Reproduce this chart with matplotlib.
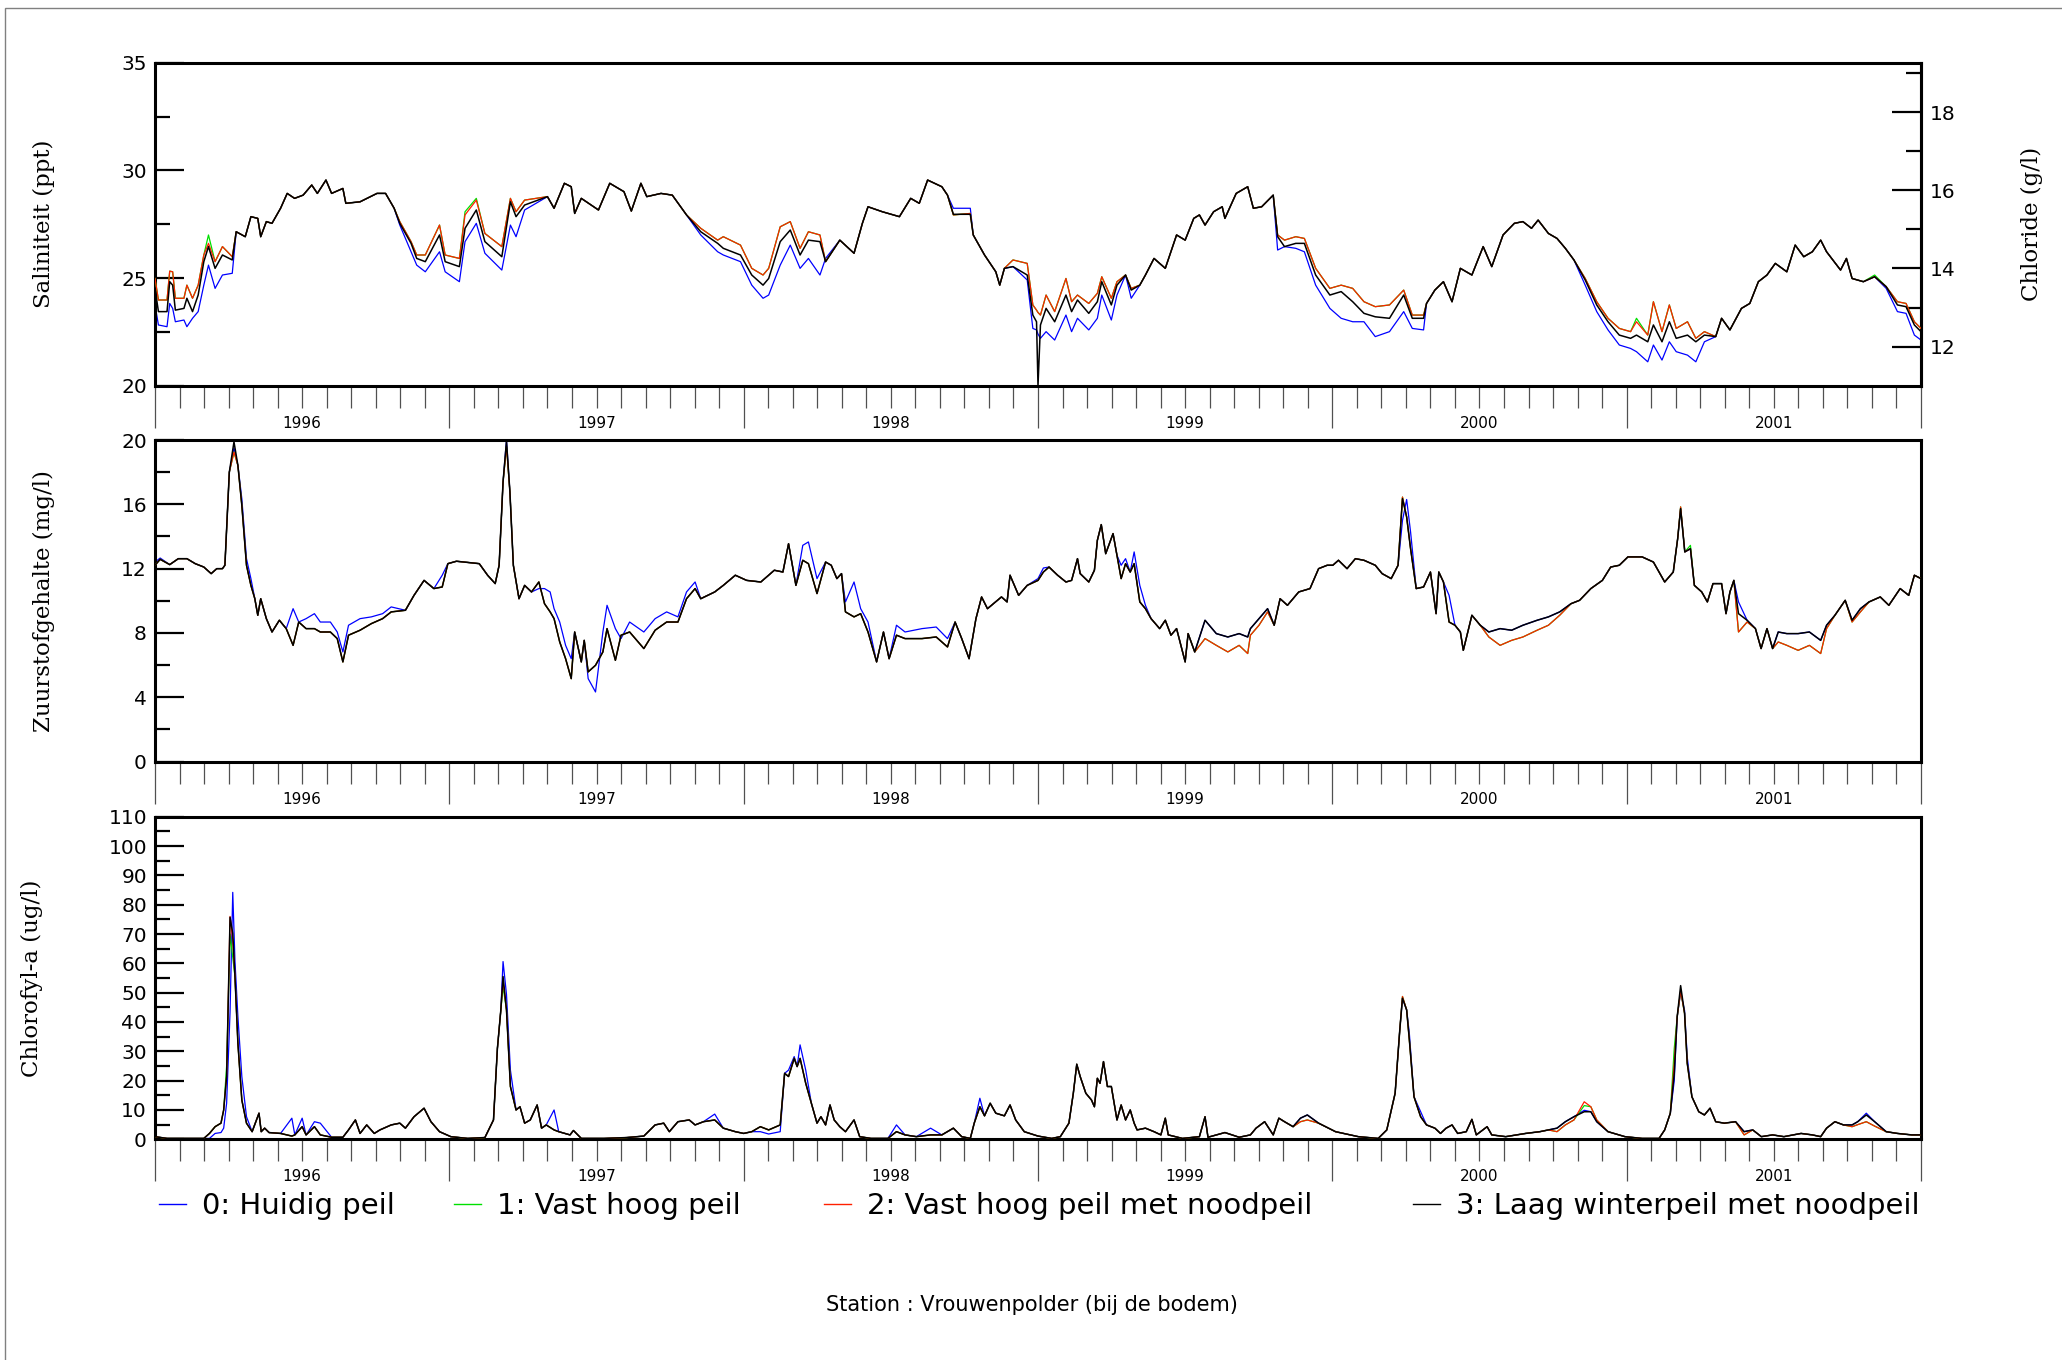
"""Salinity, oxygen and chlorophyll-a near the bottom at Vrouwenpolder,
1996-2001, for four water-level scenarios."""

import matplotlib

matplotlib.use("Agg")
import matplotlib.pyplot as plt
from matplotlib.lines import Line2D
from matplotlib.patches import Rectangle
from matplotlib.ticker import FixedLocator, MultipleLocator

# x values are months since 1 January 1996
YEARS = ["1996", "1997", "1998", "1999", "2000", "2001"]
SCENARIOS = [
    "0: Huidig peil",
    "1: Vast hoog peil",
    "2: Vast hoog peil met noodpeil",
    "3: Laag winterpeil met noodpeil",
]
COLORS = ["#0000ff", "#00e000", "#ff2000", "#000000"]

# ---- Salinity (ppt) ----
SAL_T = [
    0.00, 0.14, 0.49, 0.60, 0.72, 0.83, 1.18, 1.30, 1.53, 1.76,
    1.99, 2.18, 2.45, 2.75, 3.15, 3.31, 3.68, 3.91, 4.19, 4.31,
    4.54, 4.77, 5.12, 5.39, 5.69, 6.04, 6.39, 6.62, 6.97, 7.20,
    7.66, 7.78, 8.36, 9.05, 9.40, 9.75, 9.98, 10.44, 10.67, 11.02,
    11.60, 11.83, 12.41, 12.64, 13.10, 13.45, 14.14, 14.49, 14.72, 15.07,
    16.00, 16.27, 16.69, 16.97, 17.11, 17.38, 18.08, 18.54, 19.12, 19.42,
    19.81, 20.05, 20.63, 21.09, 21.67, 22.25, 22.94, 23.17, 23.87, 24.33,
    24.79, 25.02, 25.49, 25.90, 26.30, 26.64, 27.11, 27.34, 27.92, 28.50,
    28.84, 29.07, 29.65, 30.35, 30.81, 31.16, 31.50, 32.08, 32.31, 32.55,
    33.24, 33.36, 33.82, 34.28, 34.44, 34.63, 34.98, 35.56, 35.79, 35.94,
    36.00, 36.10, 36.33, 36.68, 37.14, 37.37, 37.61, 38.07, 38.42, 38.60,
    38.99, 39.22, 39.57, 39.80, 40.15, 40.38, 40.73, 41.19, 41.42, 41.65,
    42.00, 42.35, 42.58, 42.81, 43.16, 43.51, 43.62, 44.08, 44.55, 44.78,
    45.12, 45.59, 45.77, 46.05, 46.51, 46.86, 47.32, 47.90, 48.36, 48.83,
    49.29, 49.75, 50.33, 50.91, 51.26, 51.72, 51.84, 52.18, 52.53, 52.88,
    53.22, 53.69, 54.15, 54.50, 54.96, 55.42, 55.77, 56.12, 56.39, 56.81,
    57.16, 57.50, 57.85, 58.31, 58.78, 59.24, 59.70, 60.16, 60.40, 60.86,
    61.09, 61.44, 61.74, 62.02, 62.48, 62.82, 63.17, 63.63, 63.87, 64.21,
    64.68, 65.02, 65.37, 65.72, 66.06, 66.53, 66.87, 67.22, 67.57, 67.91,
    68.15, 68.72, 68.96, 69.19, 69.65, 70.11, 70.58, 71.04, 71.39, 71.73,
    72.00,
]
SAL_0 = [
    23.75, 22.82, 22.74, 23.82, 23.59, 22.97, 23.05, 22.74, 23.13, 23.44,
    24.67, 25.60, 24.52, 25.14, 25.22, 27.15, 26.92, 27.85, 27.77, 26.92,
    27.62, 27.54, 28.24, 28.93, 28.70, 28.85, 29.32, 28.93, 29.55, 28.93,
    29.16, 28.47, 28.54, 28.93, 28.93, 28.24, 27.46, 26.22, 25.60, 25.29,
    26.22, 25.29, 24.83, 26.69, 27.54, 26.15, 25.37, 27.46, 26.92, 28.16,
    28.78, 28.24, 29.40, 29.24, 28.00, 28.70, 28.16, 29.40, 29.01, 28.11,
    29.40, 28.78, 28.93, 28.85, 27.93, 27.00, 26.22, 26.07, 25.76, 24.67,
    24.06, 24.21, 25.60, 26.53, 25.45, 25.91, 25.14, 25.91, 26.76, 26.15,
    27.54, 28.31, 28.08, 27.85, 28.70, 28.47, 29.55, 29.24, 28.85, 28.24,
    28.24, 27.00, 26.07, 25.29, 24.67, 25.45, 25.53, 24.91, 22.66, 22.59,
    22.40, 22.20, 22.51, 22.12, 23.28, 22.51, 23.13, 22.59, 23.13, 24.21,
    23.05, 24.21, 25.14, 24.06, 24.67, 25.14, 25.91, 25.45, 26.22, 27.00,
    26.76, 27.77, 27.93, 27.46, 28.08, 28.31, 27.77, 28.93, 29.24, 28.24,
    28.31, 28.85, 26.30, 26.46, 26.38, 26.22, 24.67, 23.59, 23.13, 22.97,
    22.97, 22.28, 22.51, 23.44, 22.66, 22.59, 23.82, 24.44, 24.83, 23.90,
    25.45, 25.14, 26.46, 25.53, 27.00, 27.54, 27.62, 27.31, 27.69, 27.07,
    26.84, 26.38, 25.84, 24.67, 23.44, 22.59, 21.89, 21.73, 21.58, 21.11,
    21.89, 21.19, 22.04, 21.58, 21.42, 21.11, 22.04, 22.28, 23.13, 22.59,
    23.59, 23.82, 24.83, 25.14, 25.68, 25.29, 26.53, 25.99, 26.22, 26.76,
    26.22, 25.37, 25.91, 24.98, 24.83, 25.06, 24.52, 23.44, 23.36, 22.35,
    22.12,
]
SAL_1 = [
    24.98, 23.98, 23.98, 25.32, 25.29, 24.06, 24.06, 24.67, 24.06, 24.67,
    26.07, 27.00, 25.76, 26.46, 25.99, 27.15, 26.92, 27.85, 27.77, 26.92,
    27.62, 27.54, 28.24, 28.93, 28.70, 28.85, 29.32, 28.93, 29.55, 28.93,
    29.16, 28.47, 28.54, 28.93, 28.93, 28.24, 27.62, 26.69, 26.07, 26.07,
    27.46, 26.07, 25.91, 28.08, 28.70, 27.07, 26.46, 28.70, 28.08, 28.62,
    28.78, 28.24, 29.40, 29.24, 28.00, 28.70, 28.16, 29.40, 29.01, 28.11,
    29.40, 28.78, 28.93, 28.85, 27.93, 27.31, 26.76, 26.92, 26.53, 25.45,
    25.14, 25.45, 27.38, 27.62, 26.38, 27.15, 27.00, 25.76, 26.76, 26.15,
    27.54, 28.31, 28.08, 27.85, 28.70, 28.47, 29.55, 29.24, 28.85, 27.93,
    28.00, 27.00, 26.07, 25.29, 24.67, 25.45, 25.84, 25.68, 23.75, 23.51,
    23.40, 23.28, 24.21, 23.44, 24.98, 23.90, 24.21, 23.82, 24.29, 25.06,
    24.06, 24.83, 25.14, 24.52, 24.67, 25.14, 25.91, 25.45, 26.22, 27.00,
    26.76, 27.77, 27.93, 27.46, 28.08, 28.31, 27.77, 28.93, 29.24, 28.24,
    28.31, 28.85, 27.00, 26.76, 26.92, 26.84, 25.45, 24.52, 24.67, 24.52,
    23.90, 23.67, 23.75, 24.44, 23.28, 23.28, 23.82, 24.44, 24.83, 23.90,
    25.45, 25.14, 26.46, 25.53, 27.00, 27.54, 27.62, 27.31, 27.69, 27.07,
    26.84, 26.38, 25.84, 24.98, 23.90, 23.13, 22.66, 22.51, 23.13, 22.35,
    23.90, 22.51, 23.75, 22.66, 22.97, 22.20, 22.51, 22.28, 23.13, 22.59,
    23.59, 23.82, 24.83, 25.14, 25.68, 25.29, 26.53, 25.99, 26.22, 26.76,
    26.22, 25.37, 25.91, 24.98, 24.83, 25.14, 24.60, 23.90, 23.82, 22.97,
    22.66,
]
SAL_2 = [
    24.98, 23.98, 23.98, 25.32, 25.29, 24.06, 24.06, 24.67, 24.06, 24.67,
    26.07, 26.61, 25.76, 26.46, 25.99, 27.15, 26.92, 27.85, 27.77, 26.92,
    27.62, 27.54, 28.24, 28.93, 28.70, 28.85, 29.32, 28.93, 29.55, 28.93,
    29.16, 28.47, 28.54, 28.93, 28.93, 28.24, 27.62, 26.69, 26.07, 26.07,
    27.46, 26.07, 25.91, 27.93, 28.62, 27.07, 26.46, 28.70, 28.08, 28.62,
    28.78, 28.24, 29.40, 29.24, 28.00, 28.70, 28.16, 29.40, 29.01, 28.11,
    29.40, 28.78, 28.93, 28.85, 27.93, 27.31, 26.76, 26.92, 26.53, 25.45,
    25.14, 25.45, 27.38, 27.62, 26.38, 27.15, 27.00, 25.76, 26.76, 26.15,
    27.54, 28.31, 28.08, 27.85, 28.70, 28.47, 29.55, 29.24, 28.85, 27.93,
    28.00, 27.00, 26.07, 25.29, 24.67, 25.45, 25.84, 25.68, 23.75, 23.51,
    23.40, 23.28, 24.21, 23.44, 24.98, 23.90, 24.21, 23.82, 24.29, 25.06,
    24.06, 24.83, 25.14, 24.52, 24.67, 25.14, 25.91, 25.45, 26.22, 27.00,
    26.76, 27.77, 27.93, 27.46, 28.08, 28.31, 27.77, 28.93, 29.24, 28.24,
    28.31, 28.85, 27.00, 26.76, 26.92, 26.84, 25.45, 24.52, 24.67, 24.52,
    23.90, 23.67, 23.75, 24.44, 23.28, 23.28, 23.82, 24.44, 24.83, 23.90,
    25.45, 25.14, 26.46, 25.53, 27.00, 27.54, 27.62, 27.31, 27.69, 27.07,
    26.84, 26.38, 25.84, 24.98, 23.90, 23.13, 22.66, 22.51, 22.97, 22.35,
    23.90, 22.51, 23.75, 22.66, 22.97, 22.20, 22.51, 22.28, 23.13, 22.59,
    23.59, 23.82, 24.83, 25.14, 25.68, 25.29, 26.53, 25.99, 26.22, 26.76,
    26.22, 25.37, 25.91, 24.98, 24.83, 25.06, 24.60, 23.90, 23.82, 22.97,
    22.66,
]
SAL_3 = [
    24.52, 23.44, 23.44, 24.83, 24.67, 23.51, 23.59, 24.06, 23.44, 24.21,
    25.76, 26.46, 25.45, 26.07, 25.84, 27.15, 26.92, 27.85, 27.77, 26.92,
    27.62, 27.54, 28.24, 28.93, 28.70, 28.85, 29.32, 28.93, 29.55, 28.93,
    29.16, 28.47, 28.54, 28.93, 28.93, 28.24, 27.54, 26.61, 25.91, 25.76,
    27.00, 25.76, 25.53, 27.31, 28.16, 26.69, 25.99, 28.54, 27.85, 28.39,
    28.78, 28.24, 29.40, 29.24, 28.00, 28.70, 28.16, 29.40, 29.01, 28.11,
    29.40, 28.78, 28.93, 28.85, 27.93, 27.15, 26.61, 26.38, 26.07, 25.14,
    24.67, 24.98, 26.69, 27.23, 26.07, 26.76, 26.69, 25.76, 26.76, 26.15,
    27.54, 28.31, 28.08, 27.85, 28.70, 28.47, 29.55, 29.24, 28.85, 27.96,
    27.96, 27.00, 26.07, 25.29, 24.67, 25.45, 25.53, 25.14, 23.28, 22.97,
    20.00, 22.82, 23.59, 22.97, 24.21, 23.44, 23.98, 23.36, 23.90, 24.83,
    23.75, 24.67, 25.14, 24.44, 24.67, 25.14, 25.91, 25.45, 26.22, 27.00,
    26.76, 27.77, 27.93, 27.46, 28.08, 28.31, 27.77, 28.93, 29.24, 28.24,
    28.31, 28.85, 26.92, 26.46, 26.61, 26.61, 25.14, 24.21, 24.37, 23.90,
    23.36, 23.20, 23.13, 24.21, 23.13, 23.13, 23.82, 24.44, 24.83, 23.90,
    25.45, 25.14, 26.46, 25.53, 27.00, 27.54, 27.62, 27.31, 27.69, 27.07,
    26.84, 26.38, 25.84, 24.91, 23.75, 22.97, 22.35, 22.20, 22.35, 22.04,
    22.82, 22.04, 22.97, 22.20, 22.35, 22.04, 22.35, 22.28, 23.13, 22.59,
    23.59, 23.82, 24.83, 25.14, 25.68, 25.29, 26.53, 25.99, 26.22, 26.76,
    26.22, 25.37, 25.91, 24.98, 24.83, 25.06, 24.60, 23.75, 23.67, 22.82,
    22.51,
]

# ---- Dissolved oxygen (mg/l) ----
OXY_T = [
    0.00, 0.21, 0.60, 0.95, 1.30, 1.64, 1.99, 2.29, 2.52, 2.75,
    2.85, 3.03, 3.22, 3.38, 3.54, 3.73, 3.91, 4.07, 4.19, 4.31,
    4.54, 4.77, 5.07, 5.35, 5.63, 5.86, 6.16, 6.50, 6.74, 7.15,
    7.43, 7.66, 7.89, 8.36, 8.82, 9.28, 9.63, 10.21, 10.56, 10.97,
    11.37, 11.71, 11.94, 12.29, 13.22, 13.56, 13.87, 14.03, 14.19, 14.33,
    14.47, 14.61, 14.84, 15.07, 15.35, 15.65, 15.88, 16.11, 16.27, 16.50,
    16.74, 16.97, 17.11, 17.38, 17.50, 17.66, 17.96, 18.26, 18.43, 18.77,
    19.00, 19.35, 19.93, 20.39, 20.86, 21.32, 21.67, 22.02, 22.25, 22.82,
    23.17, 23.66, 24.12, 24.70, 25.25, 25.60, 25.83, 26.13, 26.41, 26.64,
    26.99, 27.34, 27.57, 27.80, 27.99, 28.15, 28.50, 28.77, 29.07, 29.42,
    29.70, 29.93, 30.23, 30.58, 31.27, 31.85, 32.31, 32.62, 32.89, 33.19,
    33.47, 33.70, 33.94, 34.51, 34.74, 34.86, 35.21, 35.56, 36.00, 36.22,
    36.45, 36.80, 37.14, 37.37, 37.61, 37.72, 38.07, 38.30, 38.42, 38.58,
    38.76, 39.06, 39.22, 39.39, 39.57, 39.76, 39.92, 40.15, 40.38, 40.61,
    40.96, 41.19, 41.42, 41.65, 42.00, 42.12, 42.39, 42.81, 43.27, 43.74,
    44.20, 44.55, 44.66, 45.01, 45.36, 45.63, 45.87, 46.17, 46.63, 47.09,
    47.44, 47.79, 48.02, 48.25, 48.60, 48.94, 49.29, 49.75, 50.03, 50.40,
    50.68, 50.86, 51.03, 51.19, 51.42, 51.72, 52.00, 52.11, 52.23, 52.34,
    52.53, 52.76, 53.00, 53.22, 53.34, 53.69, 54.03, 54.38, 54.84, 55.31,
    55.77, 56.35, 56.81, 57.27, 57.73, 58.08, 58.54, 59.01, 59.35, 59.70,
    60.05, 60.63, 61.09, 61.55, 61.90, 62.08, 62.20, 62.37, 62.60, 62.76,
    63.06, 63.29, 63.52, 63.87, 64.05, 64.21, 64.37, 64.56, 64.91, 65.25,
    65.48, 65.72, 65.95, 66.18, 66.53, 66.99, 67.45, 67.91, 68.15, 68.49,
    68.91, 69.19, 69.53, 69.88, 70.34, 70.69, 71.15, 71.50, 71.73, 72.00,
]
OXY_0 = [
    12.41, 12.66, 12.25, 12.62, 12.62, 12.31, 12.10, 11.69, 12.00, 12.00,
    12.21, 18.00, 19.50, 18.42, 16.35, 12.62, 11.38, 10.13, 9.10, 10.13,
    8.89, 8.06, 8.79, 8.27, 9.51, 8.68, 8.89, 9.20, 8.68, 8.68,
    8.06, 6.82, 8.48, 8.89, 9.00, 9.20, 9.62, 9.41, 10.34, 11.27,
    10.76, 11.59, 12.31, 12.46, 12.31, 11.59, 11.07, 12.21, 17.39, 20.00,
    16.77, 12.21, 10.13, 10.96, 10.55, 10.76, 10.76, 10.55, 9.51, 8.68,
    7.23, 6.40, 8.06, 6.20, 7.54, 5.16, 4.33, 8.06, 9.72, 8.27,
    7.65, 8.68, 8.06, 8.89, 9.31, 9.00, 10.55, 11.17, 10.13, 10.55,
    10.96, 11.59, 11.27, 11.17, 11.90, 11.79, 13.55, 10.96, 13.45, 13.66,
    11.38, 12.41, 12.21, 11.38, 11.69, 9.93, 11.17, 9.51, 8.68, 6.20,
    8.06, 6.40, 8.48, 8.06, 8.27, 8.37, 7.65, 8.68, 7.65, 6.40,
    8.89, 10.24, 9.51, 10.24, 9.93, 11.59, 10.34, 10.96, 11.38, 12.04,
    12.10, 11.59, 11.17, 11.27, 12.62, 11.69, 11.17, 11.90, 13.76, 14.74,
    12.93, 14.18, 12.83, 12.21, 12.62, 11.79, 13.04, 10.96, 9.72, 8.89,
    8.27, 8.79, 7.86, 8.27, 6.20, 7.96, 6.82, 8.79, 7.96, 7.75,
    7.96, 7.75, 8.27, 8.89, 9.51, 8.48, 10.13, 9.72, 10.55, 10.76,
    12.00, 12.21, 12.21, 12.52, 12.00, 12.62, 12.52, 12.21, 11.69, 11.38,
    12.21, 15.00, 16.30, 14.28, 10.76, 10.86, 11.79, 10.55, 9.20, 11.79,
    11.17, 10.34, 8.48, 8.06, 6.92, 9.10, 8.48, 8.06, 8.27, 8.17,
    8.48, 8.79, 9.00, 9.31, 9.82, 10.03, 10.76, 11.27, 12.10, 12.21,
    12.73, 12.73, 12.41, 11.17, 11.79, 13.87, 15.73, 13.04, 13.24, 10.96,
    10.55, 9.93, 11.07, 11.07, 9.20, 10.55, 11.27, 9.93, 8.79, 8.27,
    7.03, 8.27, 7.03, 8.06, 7.96, 7.96, 8.06, 7.54, 8.48, 9.10,
    10.03, 8.79, 9.51, 9.93, 10.24, 9.72, 10.76, 10.34, 11.59, 11.38,
]
OXY_1 = [
    12.21, 12.58, 12.25, 12.62, 12.62, 12.31, 12.10, 11.69, 12.00, 12.00,
    12.21, 18.00, 19.25, 18.42, 15.94, 12.21, 10.96, 10.13, 9.10, 10.13,
    8.89, 8.06, 8.79, 8.27, 7.23, 8.68, 8.27, 8.27, 8.06, 8.06,
    7.65, 6.20, 7.86, 8.17, 8.58, 8.89, 9.31, 9.41, 10.34, 11.27,
    10.76, 10.86, 12.31, 12.46, 12.31, 11.59, 11.07, 12.21, 17.39, 19.60,
    16.77, 12.21, 10.13, 10.96, 10.55, 11.17, 9.82, 9.31, 8.89, 7.44,
    6.40, 5.16, 8.06, 6.20, 7.54, 5.58, 5.99, 6.82, 8.27, 6.30,
    7.86, 8.06, 7.03, 8.17, 8.68, 8.68, 10.13, 10.76, 10.13, 10.55,
    10.96, 11.59, 11.27, 11.17, 11.90, 11.79, 13.55, 10.96, 12.52, 12.31,
    10.45, 12.41, 12.21, 11.38, 11.69, 9.31, 9.00, 9.20, 8.06, 6.20,
    8.06, 6.40, 7.86, 7.65, 7.65, 7.75, 7.13, 8.68, 7.65, 6.40,
    8.89, 10.24, 9.51, 10.24, 9.93, 11.59, 10.34, 10.96, 11.27, 11.79,
    12.10, 11.59, 11.17, 11.27, 12.62, 11.69, 11.17, 11.90, 13.76, 14.74,
    12.93, 14.18, 12.83, 11.38, 12.31, 11.79, 12.31, 9.93, 9.51, 8.89,
    8.27, 8.79, 7.86, 8.27, 6.20, 7.96, 6.82, 7.65, 7.23, 6.82,
    7.23, 6.72, 7.86, 8.48, 9.31, 8.48, 10.13, 9.72, 10.55, 10.76,
    12.00, 12.21, 12.21, 12.52, 12.00, 12.62, 12.52, 12.21, 11.69, 11.38,
    12.21, 16.45, 15.21, 13.24, 10.76, 10.86, 11.79, 10.55, 9.20, 11.79,
    11.17, 8.68, 8.48, 8.06, 6.92, 9.10, 8.48, 7.75, 7.23, 7.54,
    7.75, 8.17, 8.48, 9.10, 9.82, 10.03, 10.76, 11.27, 12.10, 12.21,
    12.73, 12.73, 12.41, 11.17, 11.79, 13.87, 15.84, 13.04, 13.45, 10.96,
    10.55, 9.93, 11.07, 11.07, 9.20, 10.55, 11.27, 8.06, 8.68, 8.27,
    7.03, 8.27, 7.03, 7.44, 7.23, 6.92, 7.23, 6.72, 8.27, 9.10,
    10.03, 8.68, 9.31, 9.93, 10.24, 9.72, 10.76, 10.34, 11.59, 11.38,
]
OXY_2 = [
    12.21, 12.58, 12.25, 12.62, 12.62, 12.31, 12.10, 11.69, 12.00, 12.00,
    12.21, 18.00, 19.25, 18.42, 15.94, 12.21, 10.96, 10.13, 9.10, 10.13,
    8.89, 8.06, 8.79, 8.27, 7.23, 8.68, 8.27, 8.27, 8.06, 8.06,
    7.65, 6.20, 7.86, 8.17, 8.58, 8.89, 9.31, 9.41, 10.34, 11.27,
    10.76, 10.86, 12.31, 12.46, 12.31, 11.59, 11.07, 12.21, 17.39, 19.60,
    16.77, 12.21, 10.13, 10.96, 10.55, 11.17, 9.82, 9.31, 8.89, 7.44,
    6.40, 5.16, 8.06, 6.20, 7.54, 5.58, 5.99, 6.82, 8.27, 6.30,
    7.86, 8.06, 7.03, 8.17, 8.68, 8.68, 10.13, 10.76, 10.13, 10.55,
    10.96, 11.59, 11.27, 11.17, 11.90, 11.79, 13.55, 10.96, 12.52, 12.31,
    10.45, 12.41, 12.21, 11.38, 11.69, 9.31, 9.00, 9.20, 8.06, 6.20,
    8.06, 6.40, 7.86, 7.65, 7.65, 7.75, 7.13, 8.68, 7.65, 6.40,
    8.89, 10.24, 9.51, 10.24, 9.93, 11.59, 10.34, 10.96, 11.27, 11.79,
    12.10, 11.59, 11.17, 11.27, 12.62, 11.69, 11.17, 11.90, 13.76, 14.74,
    12.93, 14.18, 12.83, 11.38, 12.31, 11.79, 12.31, 9.93, 9.51, 8.89,
    8.27, 8.79, 7.86, 8.27, 6.20, 7.96, 6.82, 7.65, 7.23, 6.82,
    7.23, 6.72, 7.86, 8.48, 9.31, 8.48, 10.13, 9.72, 10.55, 10.76,
    12.00, 12.21, 12.21, 12.52, 12.00, 12.62, 12.52, 12.21, 11.69, 11.38,
    12.21, 16.45, 15.21, 13.24, 10.76, 10.86, 11.79, 10.55, 9.20, 11.79,
    11.17, 8.68, 8.48, 8.06, 6.92, 9.10, 8.48, 7.75, 7.23, 7.54,
    7.75, 8.17, 8.48, 9.10, 9.82, 10.03, 10.76, 11.27, 12.10, 12.21,
    12.73, 12.73, 12.41, 11.17, 11.79, 13.87, 15.84, 13.04, 13.24, 10.96,
    10.55, 9.93, 11.07, 11.07, 9.20, 10.55, 11.27, 8.06, 8.68, 8.27,
    7.03, 8.27, 7.03, 7.44, 7.23, 6.92, 7.23, 6.72, 8.27, 9.10,
    10.03, 8.68, 9.31, 9.93, 10.24, 9.72, 10.76, 10.34, 11.59, 11.38,
]
OXY_3 = [
    12.21, 12.58, 12.25, 12.62, 12.62, 12.31, 12.10, 11.69, 12.00, 12.00,
    12.21, 18.00, 19.88, 18.42, 15.94, 12.21, 10.96, 10.13, 9.10, 10.13,
    8.89, 8.06, 8.79, 8.27, 7.23, 8.68, 8.27, 8.27, 8.06, 8.06,
    7.65, 6.20, 7.86, 8.17, 8.58, 8.89, 9.31, 9.41, 10.34, 11.27,
    10.76, 10.86, 12.31, 12.46, 12.31, 11.59, 11.07, 12.21, 17.39, 19.92,
    16.77, 12.21, 10.13, 10.96, 10.55, 11.17, 9.82, 9.31, 8.89, 7.44,
    6.40, 5.16, 8.06, 6.20, 7.54, 5.58, 5.99, 6.82, 8.27, 6.30,
    7.86, 8.06, 7.03, 8.17, 8.68, 8.68, 10.13, 10.76, 10.13, 10.55,
    10.96, 11.59, 11.27, 11.17, 11.90, 11.79, 13.55, 10.96, 12.52, 12.31,
    10.45, 12.41, 12.21, 11.38, 11.69, 9.31, 9.00, 9.20, 8.06, 6.20,
    8.06, 6.40, 7.86, 7.65, 7.65, 7.75, 7.13, 8.68, 7.65, 6.40,
    8.89, 10.24, 9.51, 10.24, 9.93, 11.59, 10.34, 10.96, 11.27, 11.79,
    12.10, 11.59, 11.17, 11.27, 12.62, 11.69, 11.17, 11.90, 13.76, 14.74,
    12.93, 14.18, 12.83, 11.38, 12.31, 11.79, 12.31, 9.93, 9.51, 8.89,
    8.27, 8.79, 7.86, 8.27, 6.20, 7.96, 6.82, 8.79, 7.96, 7.75,
    7.96, 7.75, 8.27, 8.89, 9.51, 8.48, 10.13, 9.72, 10.55, 10.76,
    12.00, 12.21, 12.21, 12.52, 12.00, 12.62, 12.52, 12.21, 11.69, 11.38,
    12.21, 16.35, 15.21, 13.24, 10.76, 10.86, 11.79, 10.55, 9.20, 11.79,
    11.17, 8.68, 8.48, 8.06, 6.92, 9.10, 8.48, 8.06, 8.27, 8.17,
    8.48, 8.79, 9.00, 9.31, 9.82, 10.03, 10.76, 11.27, 12.10, 12.21,
    12.73, 12.73, 12.41, 11.17, 11.79, 13.87, 15.73, 13.04, 13.24, 10.96,
    10.55, 9.93, 11.07, 11.07, 9.20, 10.55, 11.27, 9.20, 8.79, 8.27,
    7.03, 8.27, 7.03, 8.06, 7.96, 7.96, 8.06, 7.54, 8.48, 9.10,
    10.03, 8.79, 9.51, 9.93, 10.24, 9.72, 10.76, 10.34, 11.59, 11.38,
]

# ---- Chlorophyll-a (ug/l) ----
CHL_T = [
    0.00, 0.49, 1.99, 2.22, 2.45, 2.69, 2.80, 2.92, 3.06, 3.17,
    3.26, 3.38, 3.54, 3.73, 3.96, 4.24, 4.33, 4.47, 4.65, 5.12,
    5.58, 5.70, 6.00, 6.16, 6.50, 6.74, 7.20, 7.66, 7.89, 8.17,
    8.36, 8.63, 8.94, 9.17, 9.63, 9.98, 10.21, 10.56, 10.97, 11.25,
    11.60, 12.06, 12.75, 13.45, 13.80, 13.96, 14.10, 14.19, 14.33, 14.49,
    14.72, 14.88, 15.07, 15.30, 15.58, 15.76, 15.95, 16.27, 16.46, 16.92,
    17.06, 17.38, 18.31, 19.24, 19.93, 20.39, 20.74, 20.97, 21.32, 21.78,
    22.02, 22.36, 22.82, 23.17, 23.66, 24.00, 24.33, 24.68, 25.02, 25.49,
    25.67, 25.83, 26.06, 26.18, 26.30, 26.53, 26.76, 26.99, 27.15, 27.34,
    27.52, 27.69, 27.92, 28.15, 28.50, 28.73, 29.19, 29.88, 30.23, 30.58,
    31.04, 31.62, 32.08, 32.55, 32.89, 33.24, 33.40, 33.63, 33.82, 34.05,
    34.28, 34.63, 34.86, 35.09, 35.44, 36.00, 36.56, 36.91, 37.26, 37.44,
    37.58, 37.72, 37.95, 38.18, 38.30, 38.42, 38.53, 38.67, 38.83, 38.99,
    39.22, 39.39, 39.57, 39.76, 39.92, 40.04, 40.38, 40.73, 41.01, 41.19,
    41.31, 41.89, 42.58, 42.81, 42.93, 43.62, 44.20, 44.66, 44.89, 45.24,
    45.59, 45.82, 46.05, 46.40, 46.70, 46.98, 47.44, 48.13, 49.06, 49.87,
    50.22, 50.56, 50.75, 50.86, 51.03, 51.14, 51.33, 51.60, 51.84, 52.18,
    52.41, 52.64, 52.88, 53.11, 53.46, 53.69, 53.87, 54.31, 54.50, 55.07,
    55.88, 56.46, 56.81, 57.16, 57.50, 57.85, 58.27, 58.54, 58.78, 59.24,
    59.93, 60.63, 61.32, 61.55, 61.78, 61.94, 62.06, 62.20, 62.36, 62.47,
    62.66, 62.94, 63.17, 63.40, 63.63, 63.98, 64.44, 64.79, 65.14, 65.49,
    65.95, 66.41, 67.11, 67.57, 67.91, 68.15, 68.49, 68.84, 69.19, 69.42,
    69.77, 70.11, 70.58, 71.04, 71.62, 72.00,
]
CHL_0 = [
    0.9, 0.3, 0.3, 0.3, 2.0, 2.3, 3.8, 12.3, 43.4, 84.2,
    60.8, 41.8, 21.4, 7.7, 2.6, 8.9, 2.6, 3.8, 2.3, 2.0,
    7.2, 1.5, 7.2, 1.5, 6.0, 5.5, 0.7, 0.7, 3.2, 6.6,
    2.0, 4.9, 2.0, 3.2, 4.9, 5.5, 3.8, 7.7, 10.6, 6.0,
    2.6, 0.9, 0.3, 0.6, 6.6, 31.0, 44.1, 60.6, 49.4, 23.6,
    10.0, 11.1, 5.5, 6.6, 11.7, 3.8, 4.9, 10.0, 2.6, 1.5,
    3.0, 0.3, 0.3, 0.6, 1.1, 4.9, 5.5, 2.6, 6.0, 6.6,
    4.9, 6.0, 8.6, 3.8, 2.6, 2.0, 2.6, 2.6, 1.8, 2.6,
    22.5, 23.6, 28.2, 24.8, 32.2, 23.6, 12.3, 5.5, 7.7, 4.9,
    11.7, 6.6, 4.3, 2.6, 6.6, 0.9, 0.3, 0.3, 4.9, 1.5,
    0.9, 3.8, 1.5, 3.8, 0.9, 0.3, 5.5, 14.0, 8.0, 12.3,
    8.9, 8.0, 11.7, 6.6, 2.6, 1.1, 0.3, 0.9, 5.5, 15.7,
    25.6, 21.4, 15.7, 13.4, 11.1, 20.8, 19.1, 26.5, 18.0, 18.0,
    6.6, 11.7, 6.6, 10.0, 5.5, 3.2, 3.8, 2.6, 1.5, 7.2,
    1.5, 0.3, 0.9, 7.7, 0.7, 2.3, 0.7, 1.5, 3.8, 6.0,
    1.5, 7.2, 6.0, 4.3, 7.2, 8.3, 5.5, 2.6, 0.9, 0.3,
    3.2, 15.7, 37.3, 48.1, 44.1, 36.1, 14.5, 9.4, 4.9, 3.8,
    2.0, 3.8, 4.9, 2.0, 2.6, 6.8, 1.5, 4.3, 1.5, 0.9,
    2.0, 2.6, 3.2, 3.8, 6.0, 7.7, 9.9, 9.4, 6.0, 2.6,
    0.9, 0.3, 0.3, 3.2, 8.9, 20.0, 41.8, 50.0, 44.0, 28.0,
    14.5, 9.4, 8.3, 10.6, 6.0, 5.5, 6.0, 2.6, 3.2, 0.9,
    1.5, 0.9, 2.0, 1.5, 0.9, 3.8, 6.0, 4.9, 4.9, 6.0,
    8.9, 6.0, 2.6, 2.0, 1.5, 1.5,
]
CHL_1 = [
    0.9, 0.3, 0.3, 2.0, 4.3, 5.5, 10.0, 25.0, 70.0, 62.0,
    55.5, 32.7, 13.4, 5.5, 2.6, 8.9, 2.6, 3.8, 2.3, 2.0,
    1.1, 1.5, 4.3, 1.5, 4.3, 1.5, 0.7, 0.7, 3.2, 6.6,
    2.0, 4.9, 2.0, 3.2, 4.9, 5.5, 3.8, 7.7, 10.6, 6.0,
    2.6, 0.9, 0.3, 0.6, 6.6, 31.0, 44.1, 52.0, 44.1, 18.0,
    10.0, 11.1, 5.5, 6.6, 11.7, 3.8, 4.9, 3.2, 2.6, 1.5,
    3.0, 0.3, 0.3, 0.6, 1.1, 4.9, 5.5, 2.6, 6.0, 6.6,
    4.9, 6.0, 6.6, 3.8, 2.6, 2.0, 2.6, 4.3, 3.2, 4.9,
    22.5, 21.4, 27.6, 24.8, 27.6, 19.1, 12.3, 5.5, 7.7, 4.9,
    11.7, 6.6, 4.3, 2.6, 6.6, 0.9, 0.3, 0.3, 2.6, 1.5,
    0.9, 1.5, 1.5, 3.8, 0.9, 0.3, 5.5, 11.1, 8.0, 12.3,
    8.9, 8.0, 11.7, 6.6, 2.6, 1.1, 0.3, 0.9, 5.5, 15.7,
    25.6, 21.4, 15.7, 13.4, 11.1, 20.8, 19.1, 26.5, 18.0, 18.0,
    6.6, 11.7, 6.6, 10.0, 5.5, 3.2, 3.8, 2.6, 1.5, 7.2,
    1.5, 0.3, 0.9, 7.7, 0.7, 2.3, 0.7, 1.5, 3.8, 6.0,
    1.5, 7.2, 6.0, 4.3, 6.0, 6.6, 5.5, 2.6, 0.9, 0.3,
    3.2, 15.7, 37.3, 48.7, 44.1, 33.9, 14.5, 7.7, 4.9, 3.8,
    2.0, 3.8, 4.9, 2.0, 2.6, 6.8, 1.5, 4.3, 1.5, 0.9,
    2.0, 2.6, 3.2, 2.6, 4.9, 6.6, 11.5, 11.1, 6.6, 2.6,
    0.9, 0.3, 0.3, 3.2, 8.9, 31.0, 41.8, 50.5, 43.0, 25.9,
    14.5, 9.4, 8.3, 10.6, 6.0, 5.5, 6.0, 1.5, 3.2, 0.9,
    1.5, 0.9, 2.0, 1.5, 0.9, 3.8, 6.0, 4.9, 4.3, 5.0,
    6.0, 4.5, 2.6, 2.0, 1.5, 1.5,
]
CHL_2 = [
    0.9, 0.3, 0.3, 2.0, 4.3, 5.5, 10.0, 21.4, 76.0, 68.0,
    55.5, 32.7, 13.4, 5.5, 2.6, 8.9, 2.6, 3.8, 2.3, 2.0,
    1.1, 1.5, 4.3, 1.5, 4.3, 1.5, 0.7, 0.7, 3.2, 6.6,
    2.0, 4.9, 2.0, 3.2, 4.9, 5.5, 3.8, 7.7, 10.6, 6.0,
    2.6, 0.9, 0.3, 0.6, 6.6, 31.0, 44.1, 54.0, 44.1, 18.0,
    10.0, 11.1, 5.5, 6.6, 11.7, 3.8, 4.9, 3.2, 2.6, 1.5,
    3.0, 0.3, 0.3, 0.6, 1.1, 4.9, 5.5, 2.6, 6.0, 6.6,
    4.9, 6.0, 6.6, 3.8, 2.6, 2.0, 2.6, 4.3, 3.2, 4.9,
    22.5, 21.4, 27.6, 24.8, 27.6, 19.1, 12.3, 5.5, 7.7, 4.9,
    11.7, 6.6, 4.3, 2.6, 6.6, 0.9, 0.3, 0.3, 2.6, 1.5,
    0.9, 1.5, 1.5, 3.8, 0.9, 0.3, 5.5, 11.1, 8.0, 12.3,
    8.9, 8.0, 11.7, 6.6, 2.6, 1.1, 0.3, 0.9, 5.5, 15.7,
    25.6, 21.4, 15.7, 13.4, 11.1, 20.8, 19.1, 26.5, 18.0, 18.0,
    6.6, 11.7, 6.6, 10.0, 5.5, 3.2, 3.8, 2.6, 1.5, 7.2,
    1.5, 0.3, 0.9, 7.7, 0.7, 2.3, 0.7, 1.5, 3.8, 6.0,
    1.5, 7.2, 6.0, 4.3, 6.0, 6.6, 5.5, 2.6, 0.9, 0.3,
    3.2, 15.7, 37.3, 48.7, 44.1, 33.9, 14.5, 7.7, 4.9, 3.8,
    2.0, 3.8, 4.9, 2.0, 2.6, 6.8, 1.5, 4.3, 1.5, 0.9,
    2.0, 2.6, 3.2, 2.6, 4.9, 6.6, 12.8, 11.1, 6.6, 2.6,
    0.9, 0.3, 0.3, 3.2, 8.9, 26.0, 41.8, 50.5, 43.0, 25.9,
    14.5, 9.4, 8.3, 10.6, 6.0, 5.5, 6.0, 1.5, 3.2, 0.9,
    1.5, 0.9, 2.0, 1.5, 0.9, 3.8, 6.0, 4.9, 4.3, 5.0,
    6.0, 4.5, 2.6, 2.0, 1.5, 1.5,
]
CHL_3 = [
    0.9, 0.3, 0.3, 2.0, 4.3, 5.5, 10.0, 21.4, 75.7, 70.2,
    55.5, 32.7, 13.4, 5.5, 2.6, 8.9, 2.6, 3.8, 2.3, 2.0,
    1.1, 1.5, 4.3, 1.5, 4.3, 1.5, 0.7, 0.7, 3.2, 6.6,
    2.0, 4.9, 2.0, 3.2, 4.9, 5.5, 3.8, 7.7, 10.6, 6.0,
    2.6, 0.9, 0.3, 0.6, 6.6, 31.0, 44.1, 55.5, 44.1, 18.0,
    10.0, 11.1, 5.5, 6.6, 11.7, 3.8, 4.9, 3.2, 2.6, 1.5,
    3.0, 0.3, 0.3, 0.6, 1.1, 4.9, 5.5, 2.6, 6.0, 6.6,
    4.9, 6.0, 6.6, 3.8, 2.6, 2.0, 2.6, 4.3, 3.2, 4.9,
    22.5, 21.4, 27.6, 24.8, 27.6, 19.1, 12.3, 5.5, 7.7, 4.9,
    11.7, 6.6, 4.3, 2.6, 6.6, 0.9, 0.3, 0.3, 2.6, 1.5,
    0.9, 1.5, 1.5, 3.8, 0.9, 0.3, 5.5, 11.1, 8.0, 12.3,
    8.9, 8.0, 11.7, 6.6, 2.6, 1.1, 0.3, 0.9, 5.5, 15.7,
    25.6, 21.4, 15.7, 13.4, 11.1, 20.8, 19.1, 26.5, 18.0, 18.0,
    6.6, 11.7, 6.6, 10.0, 5.5, 3.2, 3.8, 2.6, 1.5, 7.2,
    1.5, 0.3, 0.9, 7.7, 0.7, 2.3, 0.7, 1.5, 3.8, 6.0,
    1.5, 7.2, 6.0, 4.3, 7.2, 8.3, 5.5, 2.6, 0.9, 0.3,
    3.2, 15.7, 37.3, 48.1, 44.1, 33.9, 14.5, 7.7, 4.9, 3.8,
    2.0, 3.8, 4.9, 2.0, 2.6, 6.8, 1.5, 4.3, 1.5, 0.9,
    2.0, 2.6, 3.2, 3.8, 6.0, 7.7, 9.4, 9.4, 6.0, 2.6,
    0.9, 0.3, 0.3, 3.2, 8.9, 22.5, 41.8, 52.4, 43.0, 25.9,
    14.5, 9.4, 8.3, 10.6, 6.0, 5.5, 6.0, 2.6, 3.2, 0.9,
    1.5, 0.9, 2.0, 1.5, 0.9, 3.8, 6.0, 4.9, 4.9, 6.0,
    8.3, 6.0, 2.6, 2.0, 1.5, 1.5,
]

W, H = 2062, 1360  # output size in pixels (dpi 100)


def sal_to_cl(s):
    return 11.0 + (s - 20.0) * 0.551


def cl_to_sal(c):
    return 20.0 + (c - 11.0) / 0.551


def style_panel(ax, ylim, major, minor):
    ax.set_xlim(0, 72)
    ax.set_ylim(*ylim)
    for sp in ax.spines.values():
        sp.set_linewidth(2.2)
    ax.yaxis.set_major_locator(MultipleLocator(major))
    ax.yaxis.set_minor_locator(MultipleLocator(minor))
    ax.tick_params(axis="y", which="major", direction="in", length=21, width=1.6,
                   labelsize=14.5, pad=5.8)
    ax.tick_params(axis="y", which="minor", direction="in", length=10.8, width=1.6)
    ax.xaxis.set_major_locator(FixedLocator(range(0, 73, 12)))
    ax.xaxis.set_minor_locator(FixedLocator(range(0, 73)))
    ax.tick_params(axis="x", which="major", direction="out", length=30, width=0.9,
                   color="#505050", labelbottom=False)
    ax.tick_params(axis="x", which="minor", direction="out", length=15.8, width=0.9,
                   color="#505050")
    for i, yr in enumerate(YEARS):
        ax.annotate(yr, xy=(12 * i + 6, 0), xycoords=("data", "axes fraction"),
                    xytext=(0, -27), textcoords="offset points",
                    ha="center", va="center", fontsize=11)


def draw_series(ax, t, series):
    for k, (ys, color) in enumerate(zip(series, COLORS)):
        assert len(ys) == len(t)
        ax.plot(t, ys, color=color, lw=1.1 if k == 3 else 0.9, zorder=2 + k)


plt.rcParams["font.family"] = ["DejaVu Sans"]
fig = plt.figure(figsize=(W / 100, H / 100), dpi=100)

left, width = 155 / W, 1766 / W
ax1 = fig.add_axes([left, 1 - 385.7 / H, width, 323 / H])
ax2 = fig.add_axes([left, 1 - 761.6 / H, width, 321.6 / H])
ax3 = fig.add_axes([left, 1 - 1139.3 / H, width, 322.6 / H])

draw_series(ax1, SAL_T, [SAL_0, SAL_1, SAL_2, SAL_3])
style_panel(ax1, (20, 35), 5, 2.5)
sec = ax1.secondary_yaxis("right", functions=(sal_to_cl, cl_to_sal))
sec.yaxis.set_major_locator(FixedLocator([12, 14, 16, 18]))
sec.yaxis.set_minor_locator(FixedLocator([13, 15, 17, 19]))
sec.tick_params(which="major", direction="in", length=21, width=1.6, labelsize=14.5, pad=6.5)
sec.tick_params(which="minor", direction="in", length=10.8, width=1.6)
sec.spines["right"].set_linewidth(2.2)

draw_series(ax2, OXY_T, [OXY_0, OXY_1, OXY_2, OXY_3])
style_panel(ax2, (0, 20), 4, 2)

draw_series(ax3, CHL_T, [CHL_0, CHL_1, CHL_2, CHL_3])
style_panel(ax3, (0, 110), 10, 5)

serif = {"family": "DejaVu Serif", "size": 16.5}
fig.text(44 / W, 1 - 224 / H, "Saliniteit (ppt)", rotation=90, ha="center", va="center", **serif)
fig.text(44 / W, 1 - 601 / H, "Zuurstofgehalte (mg/l)", rotation=90, ha="center", va="center", **serif)
fig.text(32 / W, 1 - 978 / H, "Chlorofyl-a (ug/l)", rotation=90, ha="center", va="center", **serif)
fig.text(2032 / W, 1 - 224 / H, "Chloride (g/l)", rotation=90, ha="center", va="center", **serif)

# legend: one entry per block, spread along the bottom like the original
for x_px, color, label in zip([159, 454, 824, 1413], COLORS, SCENARIOS):
    handle = Line2D([], [], color=color, lw=1.0)
    fig.legend([handle], [label], loc="center left", bbox_to_anchor=(x_px / W, 1 - 1206 / H),
               frameon=False, fontsize=21, handlelength=0.93, handletextpad=0.55,
               borderpad=0, borderaxespad=0)

fig.text(1032 / W, 1 - 1305 / H, "Station : Vrouwenpolder (bij de bodem)",
         ha="center", va="center", fontsize=15)

# thin page border, cut off at the right and bottom edges
fig.add_artist(Rectangle((5 / W, -0.1), 1.2, 1.1 - 8 / H, transform=fig.transFigure,
                         fill=False, ec="#808080", lw=1.0))

fig.savefig("out.png", dpi=100)
